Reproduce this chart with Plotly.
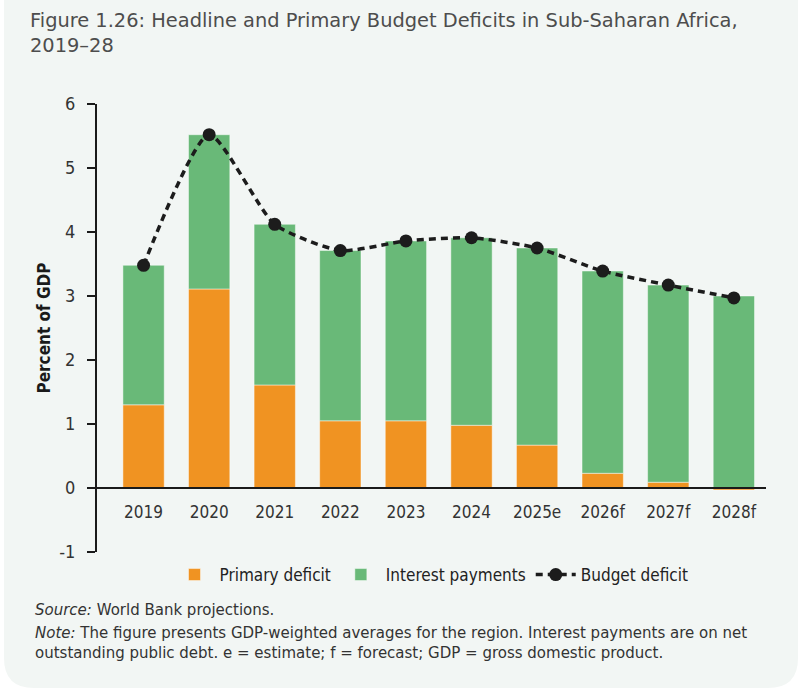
import plotly.graph_objects as go

# Sub-Saharan Africa fiscal balances, percent of GDP
years = ["2019", "2020", "2021", "2022", "2023", "2024", "2025e", "2026f", "2027f", "2028f"]
primary_deficit = [1.30, 3.11, 1.61, 1.05, 1.05, 0.98, 0.67, 0.23, 0.09, -0.03]
budget_deficit = [3.48, 5.52, 4.12, 3.71, 3.86, 3.91, 3.75, 3.39, 3.17, 2.97]
interest_payments = [round(b - p, 2) for b, p in zip(budget_deficit, primary_deficit)]

y_ticks = [-1, 0, 1, 2, 3, 4, 5, 6]
y_tick_text = ["-1", "0", "1", "2", "3", "4", "5", "6"]

W, H = 801, 690
L, R, T, B = 97, 35, 104, 138
PW, PH = W - L - R, H - T - B


def px(x):
    return (x - L) / PW


def py(y):
    return (H - B - y) / PH


ORANGE = "#F09322"
GREEN = "#69B978"
TICK_FONT = "Liberation Sans Narrow, DejaVu Sans Condensed, sans-serif"
TEXT_FONT = "DejaVu Sans, Noto Sans, sans-serif"

fig = go.Figure()
fig.add_trace(go.Bar(
    x=years, y=primary_deficit, name="Primary deficit",
    marker=dict(color=ORANGE, line=dict(color="rgba(255,255,255,0.45)", width=1)),
    width=0.63,
))
fig.add_trace(go.Bar(
    x=years, y=interest_payments, name="Interest payments",
    marker=dict(color=GREEN, line=dict(color="rgba(255,255,255,0.45)", width=1)),
    width=0.63,
))
fig.add_trace(go.Scatter(
    x=years, y=budget_deficit, name="Budget deficit", mode="lines+markers",
    line=dict(color="#1c1c1c", width=3.5, dash="7px,5px", shape="spline", smoothing=0.6),
    marker=dict(color="#1c1c1c", size=13),
))

# rounded background card
x0, x1, y0, y1, r = px(4), px(798), py(688), py(-30), 30
rx, ry = r / PW, r / PH
card = (
    f"M {x0 + rx},{y1} L {x1 - rx},{y1} Q {x1},{y1} {x1},{y1 - ry} "
    f"L {x1},{y0 + ry} Q {x1},{y0} {x1 - rx},{y0} "
    f"L {x0 + rx},{y0} Q {x0},{y0} {x0},{y0 + ry} "
    f"L {x0},{y1 - ry} Q {x0},{y1} {x0 + rx},{y1} Z"
)
fig.add_shape(type="path", path=card, xref="paper", yref="paper",
              fillcolor="#F2F6F4", line=dict(width=0), layer="below")

annotations = [
    dict(text="Figure 1.26: Headline and Primary Budget Deficits in Sub-Saharan Africa,<br>2019–28",
         x=px(28), y=py(7), xanchor="left", yanchor="top", align="left",
         font=dict(family=TEXT_FONT, size=19.4, color="#4d4d4d")),
    dict(text="<i>Source:</i> World Bank projections.",
         x=px(33), y=py(610), xanchor="left", yanchor="middle", align="left",
         font=dict(family=TEXT_FONT, size=15, color="#333333")),
    dict(text="<i>Note:</i> The figure presents GDP-weighted averages for the region. Interest payments are on net<br>"
              "outstanding public debt. e = estimate; f = forecast; GDP = gross domestic product.",
         x=px(33), y=py(622), xanchor="left", yanchor="top", align="left",
         font=dict(family=TEXT_FONT, size=15, color="#333333")),
]
for a in annotations:
    a.update(xref="paper", yref="paper", showarrow=False)

fig.update_layout(
    width=W, height=H,
    margin=dict(l=L, r=R, t=T, b=B),
    paper_bgcolor="white", plot_bgcolor="rgba(0,0,0,0)",
    barmode="relative", bargap=0.37,
    showlegend=True,
    legend=dict(orientation="h", x=0.5, xanchor="center", y=py(575), yanchor="middle",
                font=dict(family=TICK_FONT, size=17, color="#222222"),
                bgcolor="rgba(0,0,0,0)", itemwidth=40, tracegroupgap=0),
    annotations=annotations,
    xaxis=dict(
        type="category", range=[-0.71, 9.49],
        anchor="free", position=1 / 7,
        showline=True, linecolor="#1a1a1a", linewidth=2,
        showgrid=False, zeroline=False, ticks="",
        tickfont=dict(family=TICK_FONT, size=17, color="#333333"),
        ticklabelstandoff=9,
    ),
    yaxis=dict(
        range=[-1, 6], tickvals=y_ticks, ticktext=y_tick_text,
        showline=True, linecolor="#1a1a1a", linewidth=2,
        ticks="outside", ticklen=8, tickwidth=2, tickcolor="#1a1a1a",
        showgrid=False, zeroline=False,
        tickfont=dict(family=TICK_FONT, size=18, color="#333333"),
        ticklabelstandoff=8,
        title=dict(text="<b>Percent of GDP</b>", standoff=4,
                   font=dict(family=TICK_FONT, size=17, color="#1a1a1a")),
    ),
)

fig.write_html("out.html")
